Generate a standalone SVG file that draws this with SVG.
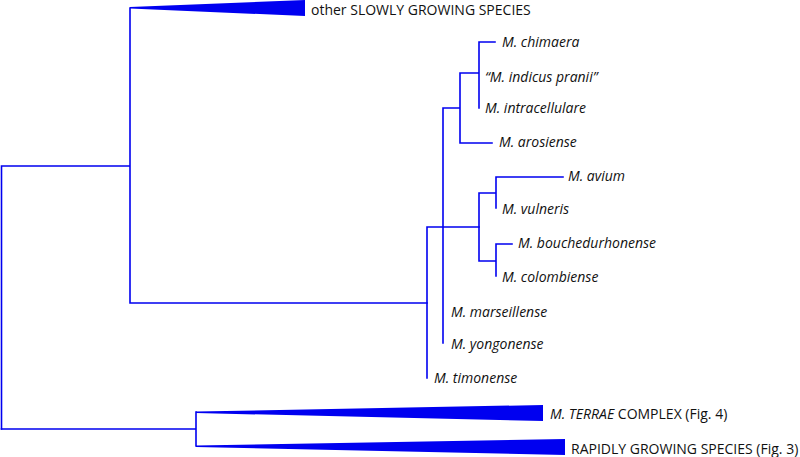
<svg xmlns="http://www.w3.org/2000/svg" width="800" height="457" viewBox="0 0 800 457">
<style>
.br{fill:none;stroke:#0000f0;stroke-width:1.6;stroke-linecap:square}
.tri{fill:#0000f0;stroke:none}
text{font-family:"Open Sans","Noto Sans","Liberation Sans",sans-serif;font-size:14px;fill:#111}
.it{font-style:italic}
</style>
<rect width="800" height="457" fill="#fff"/>
<g id="connectors">
<path class="br" d="M1.5,166 V429 M1.5,166 H130 M130,8 V303 M130,303 H427"/>
<path class="br" d="M427,227 V378 M427,227 H479 M443,108 V343 M443,108 H460 M460,73 V143 M460,73 H479 M460,143 H492 M479,42 V108 M479,42 H495"/>
<path class="br" d="M479,193 V261 M479,193 H496 M479,261 H496 M496,177 V208 M496,177 H563 M496,244 V276 M496,244 H512"/>
<path class="br" d="M1.5,429 H196 M196,412 V446"/>
</g>
<g id="slow"><polygon class="tri" points="130,7 305,0 305,16 130,8.5"/><text x="311" y="15">other SLOWLY GROWING SPECIES</text></g>
<g id="chimaera"><text class="it" x="502" y="47">M. chimaera</text></g>
<g id="indicus"><text class="it" x="485" y="82">“M. indicus pranii”</text></g>
<g id="intracellulare"><text class="it" x="485" y="113">M. intracellulare</text></g>
<g id="arosiense"><text class="it" x="499" y="147">M. arosiense</text></g>
<g id="avium"><text class="it" x="568" y="181">M. avium</text></g>
<g id="vulneris"><text class="it" x="502" y="214">M. vulneris</text></g>
<g id="bouchedurhonense"><text class="it" x="518" y="248">M. bouchedurhonense</text></g>
<g id="colombiense"><text class="it" x="502" y="282">M. colombiense</text></g>
<g id="marseillense"><text class="it" x="451" y="317">M. marseillense</text></g>
<g id="yongonense"><text class="it" x="451" y="349">M. yongonense</text></g>
<g id="timonense"><text class="it" x="434" y="383">M. timonense</text></g>
<g id="terrae"><polygon class="tri" points="196,411.5 543,405 543,421 196,413"/><text x="550" y="419"><tspan class="it">M. TERRAE</tspan> COMPLEX (Fig. 4)</text></g>
<g id="rapid"><polygon class="tri" points="196,445.5 565,439 565,455 196,447"/><text x="571" y="454">RAPIDLY GROWING SPECIES (Fig. 3)</text></g>
</svg>
